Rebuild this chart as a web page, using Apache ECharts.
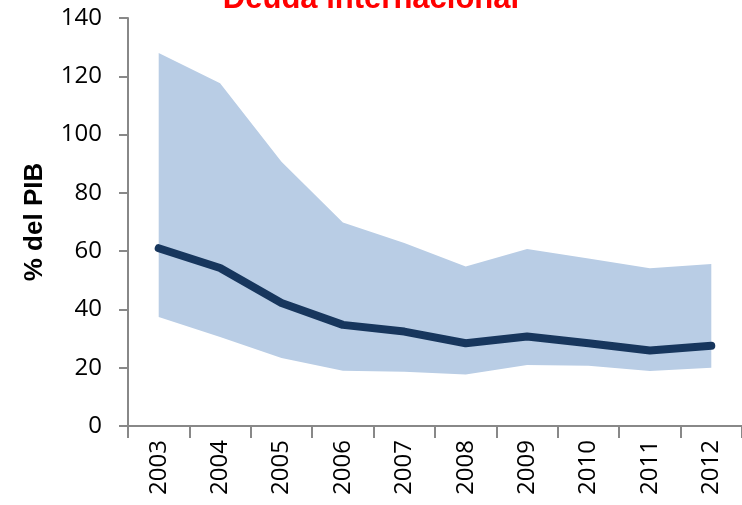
<!DOCTYPE html>
<html>
<head>
<meta charset="utf-8">
<script src="https://cdn.jsdelivr.net/npm/echarts@6/dist/echarts.min.js"></script>
<style>html,body{margin:0;padding:0;background:#fff}#c{width:742px;height:505px}</style>
</head>
<body>
<div id="c"></div>
<script>
var years = ['2003','2004','2005','2006','2007','2008','2009','2010','2011','2012'];
var low = [37.4, 30.5, 23.3, 19.0, 18.6, 17.7, 20.9, 20.7, 18.9, 20.0];
var high = [128.0, 117.6, 90.7, 69.8, 62.8, 54.7, 60.7, 57.5, 54.1, 55.6];
var median = [61.0, 54.2, 42.2, 34.7, 32.4, 28.4, 30.7, 28.4, 25.9, 27.5];
var yTicks = [0, 20, 40, 60, 80, 100, 120, 140];

var range = high.map(function (h, i) { return +(h - low[i]).toFixed(2); });
var labelFont = 'Open Sans';

var chart = echarts.init(document.getElementById('c'));
chart.setOption({
  animation: false,
  title: {
    text: 'Deuda internacional',
    left: 'center',
    top: -21,
    textStyle: { color: '#FF0000', fontSize: 31, fontWeight: 'bold', fontFamily: 'Liberation Sans' }
  },
  grid: { left: 128, right: 0, top: 18, bottom: 79, containLabel: false, outerBoundsMode: 'none' },
  xAxis: {
    type: 'category',
    data: years,
    boundaryGap: true,
    axisLine: { show: true, lineStyle: { color: '#888888', width: 2 } },
    axisTick: { show: true, length: 12, lineStyle: { color: '#888888', width: 2 } },
    axisLabel: { rotate: 90, margin: 14, fontSize: 24, color: '#000', fontFamily: labelFont }
  },
  yAxis: {
    type: 'value',
    min: yTicks[0],
    max: yTicks[yTicks.length - 1],
    interval: 20,
    name: '% del PIB',
    nameLocation: 'middle',
    nameGap: 80,
    nameRotate: 90,
    nameTextStyle: { fontSize: 26, fontWeight: 'bold', color: '#000', fontFamily: 'Liberation Sans' },
    splitLine: { show: false },
    axisLine: { show: true, lineStyle: { color: '#888888', width: 2 } },
    axisTick: { show: true, length: 9, lineStyle: { color: '#888888', width: 2 } },
    axisLabel: { margin: 26, fontSize: 24, color: '#000', fontFamily: labelFont }
  },
  series: [
    {
      type: 'line', data: low, stack: 'band', symbol: 'none',
      lineStyle: { width: 0, opacity: 0 }, areaStyle: { opacity: 0 }, silent: true
    },
    {
      type: 'line', data: range, stack: 'band', symbol: 'none',
      lineStyle: { width: 0, opacity: 0 }, areaStyle: { color: '#B9CDE5', opacity: 1 }, silent: true
    },
    {
      type: 'line', data: median, symbol: 'none', z: 5,
      lineStyle: { color: '#17365D', width: 8, cap: 'round', join: 'round' }
    }
  ]
});
</script>
</body>
</html>
